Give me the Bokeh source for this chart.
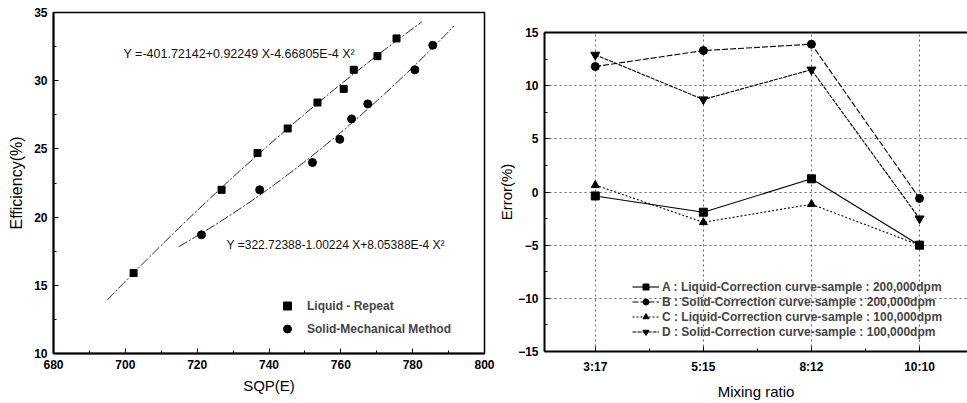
import numpy as np
from bokeh.plotting import figure
from bokeh.layouts import row
from bokeh.models import FixedTicker, Legend, LegendItem, LinearAxis, Range1d, Label, ColumnDataSource
from bokeh.embed import file_html
from bokeh.resources import INLINE

# ---------------- Left chart data ----------------
liquid_sqp = [702.3, 726.8, 736.8, 745.2, 753.5, 760.8, 763.6, 770.2, 775.5]
liquid_eff = [15.9, 22.0, 24.7, 26.5, 28.4, 29.4, 30.8, 31.8, 33.1]
solid_sqp = [721.2, 737.4, 752.1, 759.7, 763.0, 767.5, 780.6, 785.6]
solid_eff = [18.7, 22.0, 24.0, 25.7, 27.2, 28.3, 30.8, 32.6]

# fitted quadratic coefficients shown on the chart (a + b X + c X^2)
liquid_fit = [-401.72142, 0.92249, -4.66805e-4]
solid_fit = [322.72388, -1.00224, 8.05388e-4]
liquid_fit_span = [695.0, 782.5]
solid_fit_span = [714.8, 791.5]

liquid_eq = "Y =-401.72142+0.92249 X-4.66805E-4 X\u00b2"
solid_eq = "Y =322.72388-1.00224 X+8.05388E-4 X\u00b2"

# ---------------- Right chart data ----------------
ratios = ["3:17", "5:15", "8:12", "10:10"]
err_a = [-0.37, -1.9, 1.24, -5.0]
err_b = [11.8, 13.3, 13.9, -0.6]
err_c = [0.65, -2.85, -1.15, -5.0]
err_d = [12.9, 8.7, 11.5, -2.5]
labels_r = [
    "A : Liquid-Correction curve-sample : 200,000dpm",
    "B : Solid-Correction curve-sample : 200,000dpm",
    "C : Liquid-Correction curve-sample : 100,000dpm",
    "D : Solid-Correction curve-sample : 100,000dpm",
]

FONT = "Liberation Sans"


def style_axis(ax, label_size="15px"):
    ax.axis_line_width = 2
    ax.axis_line_color = "black"
    ax.major_tick_in = 5
    ax.major_tick_out = 0
    ax.minor_tick_in = 3
    ax.minor_tick_out = 0
    ax.major_tick_line_color = "black"
    ax.minor_tick_line_color = "black"
    ax.major_label_text_font = FONT
    ax.major_label_text_font_style = "bold"
    ax.major_label_text_font_size = "12px"
    ax.major_label_text_color = "black"
    ax.axis_label_text_font = FONT
    ax.axis_label_text_font_style = "normal"
    ax.axis_label_text_font_size = label_size
    ax.axis_label_text_color = "black"


# ================= Left figure =================
p1 = figure(width=495, height=402, x_range=Range1d(680, 800), y_range=Range1d(10, 35),
            output_backend="svg", toolbar_location=None, title=None,
            min_border_left=53, min_border_right=11, min_border_top=12, min_border_bottom=49)
p1.frame_align = False
p1.grid.visible = False
p1.outline_line_color = "black"
p1.outline_line_width = 1.5

p1.xaxis.ticker = FixedTicker(ticks=list(range(680, 801, 20)), minor_ticks=list(range(690, 800, 20)))
p1.yaxis.ticker = FixedTicker(ticks=list(range(10, 36, 5)), minor_ticks=[12.5, 17.5, 22.5, 27.5, 32.5])
p1.xaxis.axis_label = "SQP(E)"
p1.yaxis.axis_label = "Efficiency(%)"
for ax in p1.xaxis + p1.yaxis:
    style_axis(ax)
p1.yaxis.axis_label_text_font_size = "16px"
p1.xaxis.major_label_standoff = 6
p1.xaxis.axis_label_standoff = 5
p1.yaxis.major_label_standoff = 6
p1.yaxis.axis_label_standoff = 6

for coef, span in ((liquid_fit, liquid_fit_span), (solid_fit, solid_fit_span)):
    xs = np.linspace(span[0], span[1], 120)
    ys = coef[0] + coef[1] * xs + coef[2] * xs ** 2
    p1.line(xs, ys, line_color="#222222", line_width=1, line_dash="10 2 2 2")

r_liq = p1.scatter(liquid_sqp, liquid_eff, marker="square", size=7, color="black")
r_sol = p1.scatter(solid_sqp, solid_eff, marker="circle", size=8, color="black")

p1.add_layout(Label(x=699.5, y=31.95, text=liquid_eq, text_font=FONT, text_font_size="12.5px",
                    text_baseline="middle", text_color="#111111"))
p1.add_layout(Label(x=728.2, y=17.97, text=solid_eq, text_font=FONT, text_font_size="12px",
                    text_baseline="middle", text_color="#111111"))

leg1 = Legend(items=[LegendItem(label="Liquid - Repeat", renderers=[r_liq]),
                     LegendItem(label="Solid-Mechanical Method", renderers=[r_sol])],
              location=(224, 13), glyph_width=20, glyph_height=23, label_height=23,
              label_standoff=10, spacing=0, padding=0, margin=0,
              border_line_color=None, background_fill_alpha=0,
              label_text_font=FONT, label_text_font_style="bold", label_text_font_size="12px")
p1.add_layout(leg1)

# ================= Right figure =================
xpos = list(range(1, len(ratios) + 1))
p2 = figure(width=472, height=402, x_range=Range1d(0.53, 4.444), y_range=Range1d(-15, 15),
            output_backend="svg", toolbar_location=None, title=None,
            min_border_left=47, min_border_right=0, min_border_top=32, min_border_bottom=50)
p2.frame_align = False
p2.outline_line_color = None
p2.xaxis.ticker = FixedTicker(ticks=xpos, minor_ticks=[x + 0.5 for x in xpos])
p2.xaxis.major_label_overrides = {x: r for x, r in zip(xpos, ratios)}
p2.yaxis.ticker = FixedTicker(ticks=list(range(-15, 16, 5)), minor_ticks=[-12.5, -7.5, -2.5, 2.5, 7.5, 12.5])
p2.xaxis.axis_label = "Mixing ratio"
p2.yaxis.axis_label = "Error(%)"
for ax in p2.xaxis + p2.yaxis:
    style_axis(ax)
p2.xaxis.major_label_standoff = 8
p2.xaxis.axis_label_standoff = 6
p2.yaxis.major_label_standoff = 6
p2.yaxis.axis_label_standoff = 0

top_ax = LinearAxis(ticker=FixedTicker(ticks=[]), major_tick_line_color=None,
                    minor_tick_line_color=None, axis_line_width=2, axis_line_color="black")
p2.add_layout(top_ax, "above")

for g in p2.grid:
    g.grid_line_color = "#666666"
    g.grid_line_dash = "2 3"
    g.grid_line_width = 1
p2.xgrid.ticker = FixedTicker(ticks=xpos)
p2.ygrid.ticker = FixedTicker(ticks=[-10, -5, 0, 5, 10])

series = [
    (err_a, "square", 8, "solid"),
    (err_b, "circle", 8, "6 2"),
    (err_c, "triangle", 8, "2 2"),
    (err_d, "inverted_triangle", 9, "4 1"),
]
items = []
for (vals, mk, sz, dash), lab in zip(series, labels_r):
    src = ColumnDataSource(dict(x=xpos, y=vals))
    lr = p2.line("x", "y", source=src, line_color="black", line_width=1.1, line_dash=dash)
    sr = p2.scatter("x", "y", source=src, marker=mk, size=sz, color="black")
    items.append(LegendItem(label=lab, renderers=[lr, sr]))

leg2 = Legend(items=items, location=(88, 12), glyph_width=27, glyph_height=15, label_height=15,
              label_standoff=3, spacing=0, padding=0, margin=0,
              border_line_color=None, background_fill_alpha=0,
              label_text_font=FONT, label_text_font_style="bold", label_text_font_size="12px")
p2.add_layout(leg2)

layout = row(p1, p2)
open("out.html", "w").write(file_html(layout, INLINE))
